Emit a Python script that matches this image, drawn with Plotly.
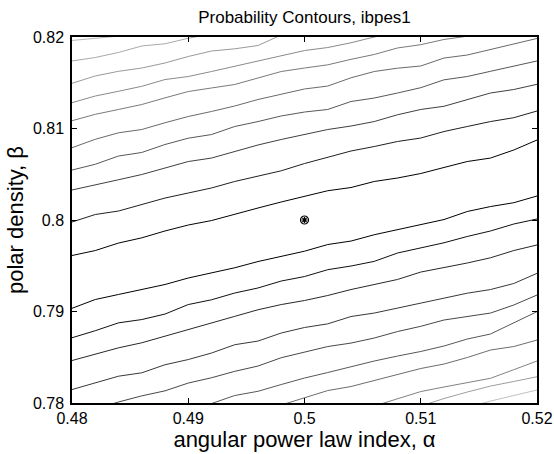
import plotly.graph_objects as go

# ---- data ----
alpha_grid = [0.480, 0.482, 0.484, 0.486, 0.488, 0.490, 0.492, 0.494, 0.496, 0.498, 0.500,
              0.502, 0.504, 0.506, 0.508, 0.510, 0.512, 0.514, 0.516, 0.518, 0.520]

# each contour: start index on alpha_grid, then beta values
beta_c01 = [0.81962, 0.81984, 0.82005, 0.82033]
beta_c02 = [0.81738, 0.81776, 0.81831, 0.81902, 0.81926, 0.81986, 0.82033]
beta_c03 = [0.81494, 0.81574, 0.81625, 0.81661, 0.81716, 0.81787, 0.81847, 0.81871, 0.81907, 0.82022, 0.82077]
beta_c04 = [0.81282, 0.81355, 0.81407, 0.81461, 0.81535, 0.81568, 0.81623, 0.81680, 0.81738, 0.81792, 0.81852,
            0.81885, 0.81937, 0.82000, 0.82055]
beta_c05 = [0.81085, 0.81155, 0.81208, 0.81262, 0.81335, 0.81404, 0.81443, 0.81481, 0.81552, 0.81623, 0.81661,
            0.81696, 0.81756, 0.81809, 0.81880, 0.81916, 0.81973, 0.82005, 0.82044]
beta_c06 = [0.80790, 0.80882, 0.80953, 0.80989, 0.81063, 0.81131, 0.81186, 0.81246, 0.81317, 0.81377, 0.81432,
            0.81464, 0.81554, 0.81623, 0.81659, 0.81683, 0.81770, 0.81803, 0.81863, 0.81918, 0.81984]
beta_c07 = [0.80546, 0.80609, 0.80699, 0.80738, 0.80825, 0.80894, 0.80934, 0.81022, 0.81076, 0.81137, 0.81180,
            0.81208, 0.81295, 0.81333, 0.81388, 0.81446, 0.81532, 0.81568, 0.81625, 0.81678, 0.81738]
beta_c08 = [0.80328, 0.80388, 0.80440, 0.80497, 0.80570, 0.80639, 0.80677, 0.80749, 0.80820, 0.80880, 0.80934,
            0.80989, 0.81027, 0.81076, 0.81150, 0.81208, 0.81243, 0.81315, 0.81388, 0.81426, 0.81483]
beta_c09 = [0.79978, 0.80060, 0.80098, 0.80169, 0.80240, 0.80295, 0.80350, 0.80421, 0.80477, 0.80538, 0.80617,
            0.80688, 0.80754, 0.80803, 0.80858, 0.80896, 0.80967, 0.81022, 0.81076, 0.81118, 0.81191]
beta_c10 = [0.79612, 0.79666, 0.79748, 0.79805, 0.79880, 0.79945, 0.79994, 0.80065, 0.80131, 0.80197, 0.80262,
            0.80320, 0.80355, 0.80421, 0.80459, 0.80508, 0.80574, 0.80639, 0.80677, 0.80765, 0.80874]
beta_c11 = [0.79035, 0.79131, 0.79186, 0.79238, 0.79295, 0.79366, 0.79420, 0.79478, 0.79546, 0.79606, 0.79659,
            0.79732, 0.79770, 0.79839, 0.79896, 0.79951, 0.80005, 0.80093, 0.80147, 0.80189, 0.80262]
beta_c12 = [0.78713, 0.78790, 0.78876, 0.78912, 0.78972, 0.79076, 0.79128, 0.79202, 0.79257, 0.79333, 0.79382,
            0.79457, 0.79497, 0.79548, 0.79639, 0.79694, 0.79751, 0.79820, 0.79880, 0.79956, 0.80011]
beta_c13 = [0.78464, 0.78530, 0.78603, 0.78658, 0.78732, 0.78801, 0.78876, 0.78947, 0.79019, 0.79076, 0.79120,
            0.79175, 0.79240, 0.79293, 0.79350, 0.79431, 0.79477, 0.79530, 0.79587, 0.79666, 0.79727]
beta_c14 = [0.78147, 0.78224, 0.78293, 0.78330, 0.78418, 0.78475, 0.78546, 0.78637, 0.78677, 0.78765, 0.78825,
            0.78865, 0.78945, 0.78983, 0.79038, 0.79093, 0.79147, 0.79200, 0.79240, 0.79306, 0.79417]
beta_c15 = [0.77858, 0.77934, 0.78011, 0.78078, 0.78133, 0.78218, 0.78276, 0.78346, 0.78404, 0.78495, 0.78552,
            0.78617, 0.78655, 0.78710, 0.78781, 0.78838, 0.78907, 0.78945, 0.78983, 0.79071, 0.79180]
beta_c16 = [0.77923, 0.77994, 0.78082, 0.78128, 0.78202, 0.78273, 0.78333, 0.78399, 0.78459, 0.78513, 0.78563,
            0.78623, 0.78699, 0.78754, 0.78874, 0.78998]
beta_c17 = [0.77978, 0.78054, 0.78136, 0.78180, 0.78246, 0.78306, 0.78377, 0.78426, 0.78497, 0.78579, 0.78617, 0.78688]
beta_c18 = [0.77967, 0.78049, 0.78125, 0.78175, 0.78224, 0.78270, 0.78364, 0.78459]
beta_c19 = [0.77967, 0.78049, 0.78120, 0.78185, 0.78235, 0.78287]
beta_c20 = [0.77950, 0.78021, 0.78082, 0.78142]

contour_start = [0, 0, 0, 0, 0, 0, 0, 0, 0, 0, 0, 0, 0, 0, 0, 5, 9, 13, 15, 17]
contour_betas = [beta_c01, beta_c02, beta_c03, beta_c04, beta_c05, beta_c06, beta_c07, beta_c08, beta_c09, beta_c10,
                 beta_c11, beta_c12, beta_c13, beta_c14, beta_c15, beta_c16, beta_c17, beta_c18, beta_c19, beta_c20]
contour_gray = [184, 170, 154, 138, 122, 106, 88, 64, 32, 0,
                0, 16, 40, 56, 72, 88, 108, 130, 158, 192]

best_alpha = [0.5]
best_beta = [0.8]

x_ticks = [0.48, 0.49, 0.50, 0.51, 0.52]
x_ticktext = ["0.48", "0.49", "0.5", "0.51", "0.52"]
y_ticks = [0.78, 0.79, 0.80, 0.81, 0.82]
y_ticktext = ["0.78", "0.79", "0.8", "0.81", "0.82"]

FONT = "Liberation Sans, Arial, Helvetica, sans-serif"

fig = go.Figure()
for start, betas, g in zip(contour_start, contour_betas, contour_gray):
    xs = alpha_grid[start:start + len(betas)]
    fig.add_trace(go.Scatter(x=xs, y=betas, mode="lines",
                             line=dict(color=f"rgb({g},{g},{g})", width=1),
                             hoverinfo="skip", showlegend=False))

fig.add_trace(go.Scatter(x=best_alpha, y=best_beta, mode="markers",
                         marker=dict(symbol="circle-open", size=8, color="black", line=dict(width=1.2)),
                         hoverinfo="skip", showlegend=False))
fig.add_trace(go.Scatter(x=best_alpha, y=best_beta, mode="markers",
                         marker=dict(symbol="asterisk-open", size=5, color="black", line=dict(width=1.2)),
                         hoverinfo="skip", showlegend=False))

axis_common = dict(showline=True, linecolor="black", linewidth=1.5, mirror="ticks",
                   ticks="inside", ticklen=5, tickwidth=1, tickcolor="black",
                   showgrid=False, zeroline=False, automargin=False,
                   tickfont=dict(family=FONT, size=16, color="black"))

W, H = 554, 454
fig.update_layout(
    width=W, height=H,
    margin=dict(l=72, r=17, t=37, b=51, autoexpand=False),
    paper_bgcolor="white", plot_bgcolor="white",
    hovermode=False,
    title=dict(text="Probability Contours, ibpes1", x=0.5, xref="paper", xanchor="center",
               y=1 - 17 / H, yref="container", yanchor="middle",
               font=dict(family=FONT, size=17, color="black")),
    xaxis=dict(range=[0.48, 0.52], tickvals=x_ticks, ticktext=x_ticktext,
               title=dict(text="angular power law index, α", standoff=5,
                          font=dict(family=FONT, size=22, color="black")),
               **axis_common),
    yaxis=dict(range=[0.78, 0.82], tickvals=y_ticks, ticktext=y_ticktext,
               ticklabelstandoff=3,
               title=dict(text="polar density, β", standoff=3,
                          font=dict(family=FONT, size=22, color="black")),
               **axis_common),
)

# remove the page's default body margin so the 554x454 figure fills the window exactly
fig.write_html("out.html", config={"displayModeBar": False},
               post_script="document.body.style.margin='0';document.body.style.overflow='hidden';")
